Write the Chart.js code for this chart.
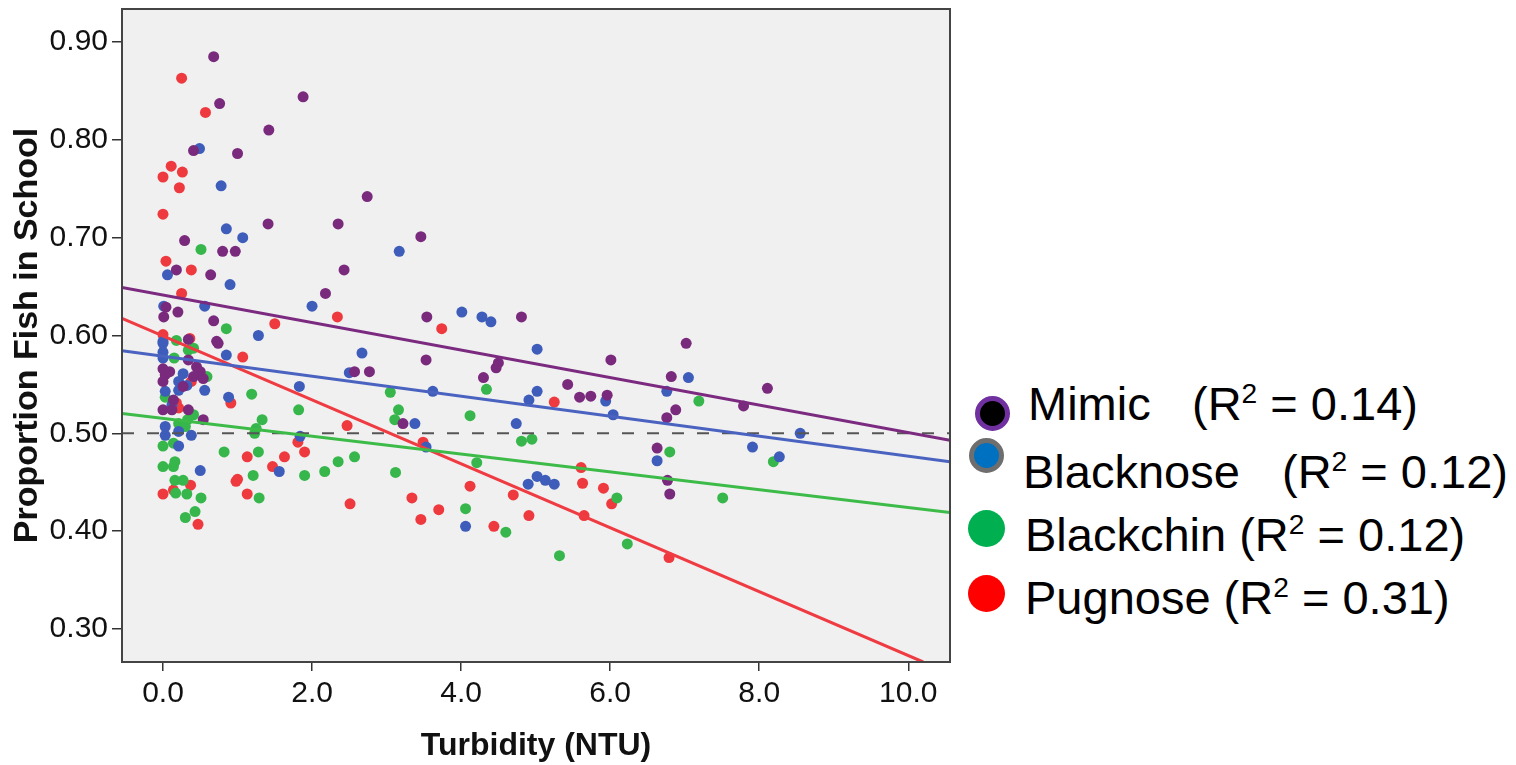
<!DOCTYPE html>
<html>
<head>
<meta charset="utf-8">
<script src="https://cdn.jsdelivr.net/npm/chart.js@4.4.0/dist/chart.umd.min.js"></script>
<style>
  body { margin: 0; background: #fff; font-family: "Liberation Sans", Arial, sans-serif; }
  #wrap { position: relative; width: 1516px; height: 765px; overflow: hidden; }
  #chart { position: absolute; left: 0; top: 0; }
  .mark { position: absolute; border-radius: 50%; box-sizing: border-box; }
  .lbl { position: absolute; font-size: 47px; line-height: 47px; color: #000; white-space: nowrap; }
  .lbl sup { font-size: 60%; line-height: 0; }
</style>
</head>
<body>
<div id="wrap">
  <canvas id="chart" width="960" height="765"></canvas>

  <div class="mark" style="left:975px;top:396px;width:35px;height:35px;background:#000;border:5px solid #7030a0;"></div>
  <div class="lbl" style="left:1028px;top:380px;">Mimic</div>
  <div class="lbl" style="left:1192px;top:380px;">(R<sup>2</sup> = 0.14)</div>

  <div class="mark" style="left:969px;top:438px;width:35px;height:35px;background:#0070c0;border:5px solid #6e6e6e;"></div>
  <div class="lbl" style="left:1023px;top:448px;">Blacknose</div>
  <div class="lbl" style="left:1282px;top:448px;">(R<sup>2</sup> = 0.12)</div>

  <div class="mark" style="left:968px;top:510px;width:37px;height:37px;background:#00b050;"></div>
  <div class="lbl" style="left:1025px;top:511px;">Blackchin (R<sup>2</sup> = 0.12)</div>

  <div class="mark" style="left:968px;top:575px;width:37px;height:37px;background:#ff0000;"></div>
  <div class="lbl" style="left:1025px;top:574px;">Pugnose (R<sup>2</sup> = 0.31)</div>
</div>

<script>
// tick labels
const xTicks = [0, 2, 4, 6, 8, 10];
const yTicks = [0.3, 0.4, 0.5, 0.6, 0.7, 0.8, 0.9];

// [turbidity, proportion]
const mimicPts = [
  [0.68, 0.885], [0.76, 0.837], [1.88, 0.844], [1.42, 0.810], [0.41, 0.789], [1.00, 0.786],
  [2.74, 0.742], [1.41, 0.714], [2.35, 0.714], [3.46, 0.701], [0.29, 0.697], [0.80, 0.686],
  [0.97, 0.686], [0.18, 0.667], [2.43, 0.667], [0.64, 0.662], [2.18, 0.643], [0.04, 0.629],
  [0.01, 0.619], [0.20, 0.624], [0.68, 0.615], [3.54, 0.619], [0.72, 0.594], [0.74, 0.592],
  [0.34, 0.596], [3.53, 0.575], [4.81, 0.619], [6.01, 0.575], [7.02, 0.592], [4.50, 0.572],
  [4.47, 0.567], [4.30, 0.557], [5.43, 0.550], [5.59, 0.537], [5.74, 0.538], [5.96, 0.539],
  [6.82, 0.558], [6.88, 0.524], [6.76, 0.516], [7.79, 0.528], [8.11, 0.546], [6.63, 0.485],
  [6.77, 0.452], [6.80, 0.438], [2.57, 0.563], [2.77, 0.563], [3.22, 0.510], [0.34, 0.575],
  [0.00, 0.566], [0.03, 0.560], [0.00, 0.553], [0.09, 0.563], [0.45, 0.568], [0.50, 0.563],
  [0.41, 0.558], [0.54, 0.556], [0.27, 0.548], [0.14, 0.534], [0.00, 0.524], [0.12, 0.524],
  [0.34, 0.524], [0.54, 0.514]
];
const blacknosePts = [
  [0.49, 0.791], [0.78, 0.753], [0.85, 0.709], [1.07, 0.700], [3.17, 0.686], [0.06, 0.662],
  [0.90, 0.652], [0.01, 0.630], [0.56, 0.630], [2.00, 0.630], [4.01, 0.624], [4.28, 0.619],
  [4.40, 0.614], [1.28, 0.600], [2.67, 0.582], [0.85, 0.580], [5.02, 0.586], [5.02, 0.543],
  [4.91, 0.534], [5.94, 0.533], [6.04, 0.519], [7.05, 0.557], [6.76, 0.543], [8.55, 0.500],
  [7.91, 0.486], [8.27, 0.476], [6.63, 0.472], [4.74, 0.510], [4.06, 0.405], [4.90, 0.448],
  [5.02, 0.456], [5.13, 0.452], [5.25, 0.448], [2.50, 0.562], [3.62, 0.543], [3.38, 0.510],
  [3.53, 0.486], [1.83, 0.548], [1.84, 0.497], [1.56, 0.461], [0.88, 0.537], [0.50, 0.462],
  [0.00, 0.592], [0.00, 0.583], [0.00, 0.577], [0.27, 0.561], [0.21, 0.553], [0.21, 0.544],
  [0.32, 0.549], [0.56, 0.544], [0.03, 0.543], [0.12, 0.529], [0.03, 0.507], [0.03, 0.498],
  [0.21, 0.502], [0.38, 0.498], [0.21, 0.487], [0.00, 0.594]
];
const blackchinPts = [
  [0.51, 0.688], [0.85, 0.607], [4.34, 0.545], [7.19, 0.533], [8.19, 0.471], [6.80, 0.481],
  [7.51, 0.434], [4.12, 0.518], [4.21, 0.470], [4.81, 0.492], [4.95, 0.494], [4.06, 0.423],
  [4.60, 0.399], [6.09, 0.434], [6.23, 0.387], [5.32, 0.375], [3.05, 0.542], [3.16, 0.524],
  [3.11, 0.514], [1.82, 0.524], [1.90, 0.457], [2.17, 0.461], [2.35, 0.471], [2.57, 0.476],
  [3.12, 0.460], [1.19, 0.540], [1.33, 0.514], [1.25, 0.505], [1.23, 0.500], [1.28, 0.481],
  [1.21, 0.457], [1.29, 0.434], [0.82, 0.481], [0.51, 0.434], [0.43, 0.420], [0.30, 0.414],
  [0.17, 0.439], [0.32, 0.438], [0.16, 0.452], [0.27, 0.452], [0.00, 0.466], [0.14, 0.466],
  [0.16, 0.471], [0.00, 0.487], [0.14, 0.490], [0.41, 0.519], [0.03, 0.537], [0.59, 0.558],
  [0.15, 0.577], [0.18, 0.595], [0.34, 0.585], [0.41, 0.587], [0.21, 0.510], [0.33, 0.514],
  [0.30, 0.507]
];
const pugnosePts = [
  [0.25, 0.863], [0.57, 0.828], [0.11, 0.773], [0.00, 0.762], [0.26, 0.767], [0.22, 0.751],
  [0.00, 0.724], [0.04, 0.676], [0.38, 0.667], [0.25, 0.643], [2.34, 0.619], [1.50, 0.612],
  [3.74, 0.607], [0.00, 0.601], [0.36, 0.597], [1.07, 0.578], [5.25, 0.532], [4.12, 0.446],
  [4.44, 0.405], [4.70, 0.437], [4.91, 0.416], [5.61, 0.465], [5.63, 0.449], [5.65, 0.416],
  [5.91, 0.444], [6.02, 0.428], [6.79, 0.373], [3.49, 0.491], [2.47, 0.508], [1.81, 0.491],
  [1.90, 0.481], [2.51, 0.428], [3.34, 0.434], [3.46, 0.412], [3.70, 0.422], [1.13, 0.476],
  [0.98, 0.451], [1.00, 0.453], [1.13, 0.438], [1.47, 0.466], [1.63, 0.476], [0.91, 0.531],
  [0.47, 0.407], [0.37, 0.447], [0.14, 0.442], [0.00, 0.438], [0.38, 0.553], [0.21, 0.526],
  [0.18, 0.531]
];

// fit lines, end points
const mimicFit = [[-0.55, 0.649], [10.56, 0.493]];
const blacknoseFit = [[-0.55, 0.5845], [10.56, 0.471]];
const blackchinFit = [[-0.55, 0.5204], [10.56, 0.4192]];
const pugnoseFit = [[-0.55, 0.6175], [10.2, 0.2663]];
const chanceLine = [[-0.55, 0.5], [10.56, 0.5]];

const FONT = 'Liberation Sans';
const toXY = arr => arr.map(p => ({ x: p[0], y: p[1] }));

const dots = (pts, color, order) => ({
  data: toXY(pts), backgroundColor: color, borderWidth: 0,
  pointRadius: 5.5, pointHoverRadius: 5.5, order
});
const fit = (pts, color, width, order, dash) => ({
  data: toXY(pts), showLine: true, borderColor: color, borderWidth: width,
  borderDash: dash || [], pointRadius: 0, pointHoverRadius: 0, fill: false, order
});

// no extra room for edge labels, the plot box is fixed
const noEdgePad = s => { s.paddingTop = 0; s.paddingBottom = 0; s.paddingLeft = 0; s.paddingRight = 0; };

const plotFrame = {
  id: 'plotFrame',
  beforeDraw(chart) {
    const { ctx, chartArea: a } = chart;
    ctx.save();
    ctx.fillStyle = '#f0f0f0';
    ctx.fillRect(a.left, a.top, a.right - a.left, a.bottom - a.top);
    ctx.restore();
  },
  afterDraw(chart) {
    const { ctx, chartArea: a } = chart;
    ctx.save();
    ctx.strokeStyle = '#444';
    ctx.lineWidth = 2;
    ctx.strokeRect(a.left, a.top, a.right - a.left, a.bottom - a.top);
    ctx.restore();
  }
};

new Chart(document.getElementById('chart'), {
  type: 'scatter',
  data: {
    datasets: [
      fit(mimicFit, '#7b2a80', 3, 0),
      fit(blacknoseFit, '#4a63c0', 3, 0),
      fit(blackchinFit, '#3dbb48', 3, 0),
      fit(pugnoseFit, '#ef3b42', 3, 0),
      fit(chanceLine, '#555555', 2, 0.5, [12, 13]),
      dots(pugnosePts, '#ee3a3e', 4),
      dots(blackchinPts, '#36b64b', 3),
      dots(blacknosePts, '#3e5dbb', 2),
      dots(mimicPts, '#7a2a7c', 1)
    ]
  },
  options: {
    responsive: false,
    animation: false,
    layout: { padding: { left: 0, right: 10, top: 9, bottom: 0 } },
    plugins: { legend: { display: false }, tooltip: { enabled: false } },
    scales: {
      x: {
        type: 'linear', min: -0.55, max: 10.56,
        afterBuildTicks: s => { s.ticks = xTicks.map(v => ({ value: v })); },
        afterFit: s => { s.height = 103; noEdgePad(s); },
        grid: { drawOnChartArea: false, drawTicks: true, tickLength: 9, color: '#333', lineWidth: 1.5 },
        border: { display: false },
        ticks: { autoSkip: false, maxRotation: 0, padding: 5, color: '#111',
                 font: { family: FONT, size: 30 }, callback: v => v.toFixed(1) },
        title: { display: true, text: 'Turbidity (NTU)', color: '#111',
                 font: { family: FONT, size: 32, weight: 'bold' }, padding: { top: 0, bottom: 0 } }
      },
      y: {
        type: 'linear', min: 0.2663, max: 0.9337,
        afterBuildTicks: s => { s.ticks = yTicks.map(v => ({ value: v })); },
        afterFit: s => { s.width = 122; noEdgePad(s); },
        grid: { drawOnChartArea: false, drawTicks: true, tickLength: 10, color: '#333', lineWidth: 1.5 },
        border: { display: false },
        ticks: { autoSkip: false, padding: 4, color: '#111',
                 font: { family: FONT, size: 30 }, callback: v => v.toFixed(2) },
        title: { display: true, text: 'Proportion Fish in School', color: '#111',
                 font: { family: FONT, size: 34, weight: 'bold' }, padding: { top: 7, bottom: 0 } }
      }
    }
  },
  plugins: [plotFrame]
});
</script>
</body>
</html>
